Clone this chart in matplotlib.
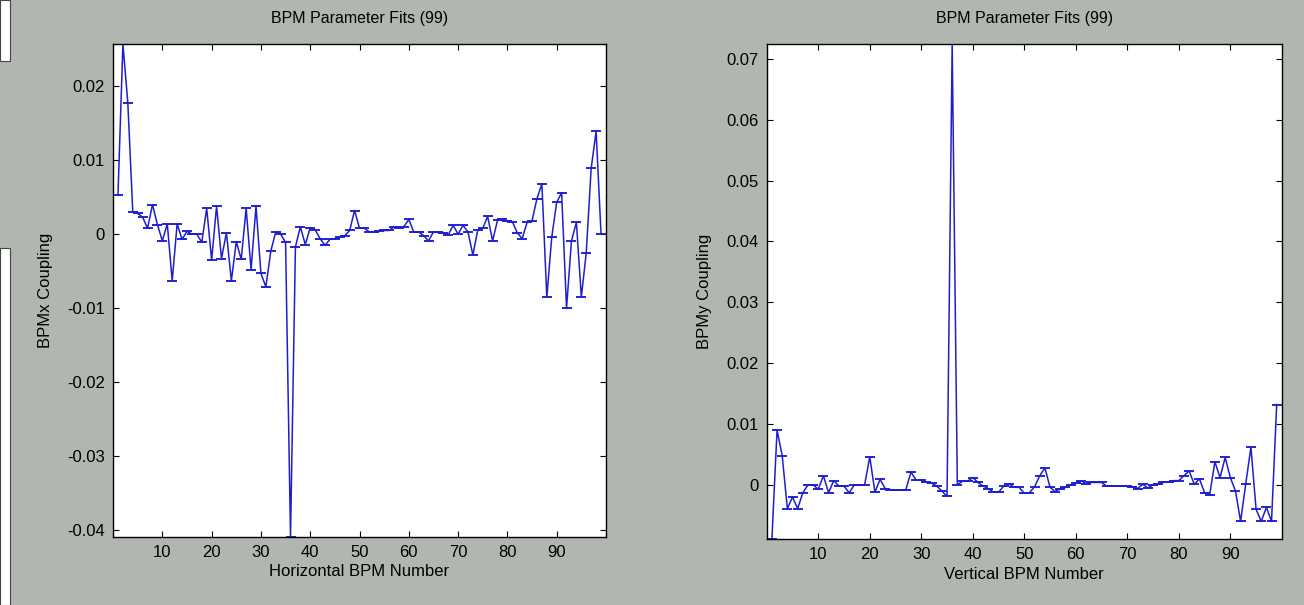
import matplotlib
matplotlib.use("Agg")
import matplotlib.pyplot as plt
import numpy as np
from matplotlib.patches import Rectangle

plt.rcParams['font.family'] = ['Liberation Sans', 'DejaVu Sans']

# ---------- data (units 1e-3) ----------
bpm = np.arange(1, 100)

bpmx_coupling = np.array([
    5.3, 25.7, 17.7, 3.0, 2.8, 2.3, 0.8, 4.0, 1.3, -0.9,
    1.4, -6.3, 1.4, -0.7, 0.4, 0.0, 0.0, -1.1, 3.5, -3.5,
    3.8, -3.3, 0.2, -6.3, -1.0, -3.4, 3.5, -4.8, 3.8, -5.3,
    -7.1, -2.3, 0.3, 0.0, -1.1, -40.9, -1.7, 1.0, -1.4, 0.9,
    0.6, -0.6, -1.5, -0.7, -0.6, -0.4, -0.2, 0.5, 3.2, 0.8,
    0.8, 0.3, 0.3, 0.4, 0.5, 0.5, 1.0, 0.9, 1.0, 2.0,
    0.3, 0.3, -0.2, -0.9, 0.3, 0.3, 0.2, -0.1, 1.2, 0.0,
    1.2, 0.3, -2.8, 0.6, 0.8, 2.4, -0.9, 1.9, 2.0, 1.8,
    1.7, 0.2, -0.6, 1.6, 1.8, 4.8, 6.8, -8.5, -0.4, 4.3,
    5.6, -10.0, -0.9, 1.6, -8.5, -2.5, 8.9, 13.9, 0.0,
]) * 1e-3

bpmy_coupling = np.array([
    -8.9, 9.0, 4.8, -3.9, -2.0, -3.9, -1.3, 0.0, 0.0, -0.7,
    1.5, -1.3, 0.7, -0.2, -0.2, -1.3, 0.0, 0.0, 0.0, 4.6,
    -1.2, 0.9, -0.6, -0.8, -0.8, -0.9, -0.8, 2.1, 0.8, 0.8,
    0.4, 0.3, -0.2, -1.0, -1.9, 72.4, 0.0, 0.6, 0.6, 1.2,
    0.4, -0.2, -0.6, -1.2, -1.2, -0.2, 0.2, -0.4, -0.4, -1.4,
    -1.3, -0.3, 1.5, 2.8, -0.4, -1.1, -0.6, -0.4, 0.0, 0.3,
    0.7, 0.2, 0.4, 0.4, 0.4, -0.2, -0.2, -0.2, -0.2, -0.2,
    -0.3, -0.6, 0.1, -0.5, 0.0, 0.1, 0.4, 0.5, 0.7, 0.7,
    1.5, 2.3, 0.1, 1.0, -1.3, -1.6, 3.8, 1.2, 4.5, 1.2,
    -1.0, -6.0, 0.2, 6.2, -4.0, -6.0, -3.7, -6.0, 13.2,
]) * 1e-3

x_ticks = [10, 20, 30, 40, 50, 60, 70, 80, 90]
x_ticklabels = ['10', '20', '30', '40', '50', '60', '70', '80', '90']
yx_ticks = [-0.04, -0.03, -0.02, -0.01, 0, 0.01, 0.02]
yx_ticklabels = ['-0.04', '-0.03', '-0.02', '-0.01', '0', '0.01', '0.02']
yy_ticks = [0, 0.01, 0.02, 0.03, 0.04, 0.05, 0.06, 0.07]
yy_ticklabels = ['0', '0.01', '0.02', '0.03', '0.04', '0.05', '0.06', '0.07']

BG = '#b2b6b1'
LINE = '#1e1ecf'
FS_TICK = 12
FS_LAB = 12
FS_TITLE = 11.5

fig = plt.figure(figsize=(13.04, 6.05), dpi=100, facecolor=BG)

# bit of another window peeking in at the left border
fig.patches.append(Rectangle((0, 0.9), 0.0075, 0.1, transform=fig.transFigure,
                             facecolor='white', edgecolor='#444444', lw=0.8))
fig.patches.append(Rectangle((0, 0.0), 0.0075, 0.59, transform=fig.transFigure,
                             facecolor='white', edgecolor='#444444', lw=0.8))


def draw_panel(ax, y, yticks, yticklabels, ylim, xlabel, ylabel):
    ax.set_facecolor('white')
    ax.errorbar(bpm, y, yerr=np.zeros_like(y), color=LINE, lw=1.1,
                capsize=3.6, capthick=1.1, elinewidth=1.1)
    ax.set_xlim(0, 100)
    ax.set_ylim(*ylim)
    ax.set_xticks(x_ticks)
    ax.set_xticklabels(x_ticklabels)
    ax.set_yticks(yticks)
    ax.set_yticklabels(yticklabels)
    ax.tick_params(direction='in', top=True, right=True, length=4,
                   width=0.8, labelsize=FS_TICK, colors='black', pad=6)
    for s in ax.spines.values():
        s.set_color('black')
        s.set_linewidth(1.0)
    ax.set_title('BPM Parameter Fits (99)', fontsize=FS_TITLE, pad=15)
    ax.set_xlabel(xlabel, fontsize=FS_LAB, labelpad=3)
    ax.set_ylabel(ylabel, fontsize=FS_LAB, labelpad=10)


ax1 = fig.add_axes([0.0867, 0.1124, 0.378, 0.815])
draw_panel(ax1, bpmx_coupling, yx_ticks, yx_ticklabels, (-0.0409, 0.0257),
           'Horizontal BPM Number', 'BPMx Coupling')

ax2 = fig.add_axes([0.588, 0.109, 0.395, 0.818])
draw_panel(ax2, bpmy_coupling, yy_ticks, yy_ticklabels, (-0.0089, 0.0724),
           'Vertical BPM Number', 'BPMy Coupling')

fig.savefig('out.png', dpi=100, facecolor=BG)
